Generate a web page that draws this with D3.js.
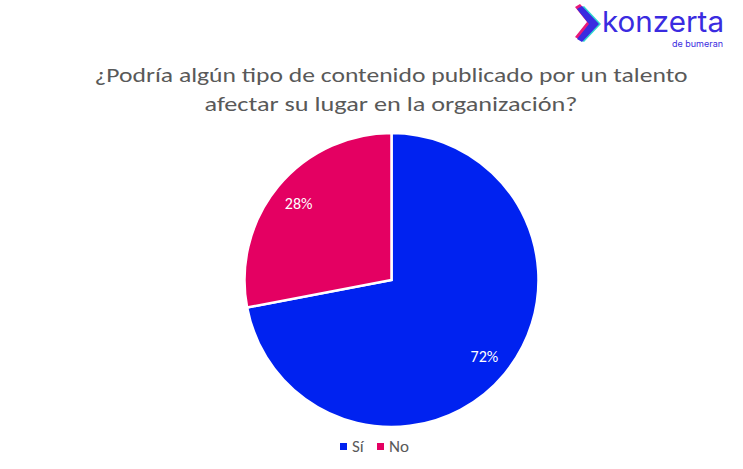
<!DOCTYPE html>
<html>
<head>
<meta charset="utf-8">
<script src="https://cdn.jsdelivr.net/npm/d3@7"></script>
<style>
  body { margin: 0; background: #fff; }
  svg { font-family: Calibri, Carlito, Lato, sans-serif; }
</style>
</head>
<body>
<div id="chart"></div>
<script>
var svgWidth = 743;
var svgHeight = 469;

// Data
var categories = ["Sí", "No"];
var values = [72, 28];
var colors = ["#0022f0", "#e40062"];
var titleLines = [
    "¿Podría algún tipo de contenido publicado por un talento",
    "afectar su lugar en la organización?"
];

var data = categories.map((c, i) => ({ label: c, value: values[i] }));

var svg = d3.select("#chart")
    .append("svg")
    .attr("width", svgWidth)
    .attr("height", svgHeight);

// Title
var titleWidths = [593, 373];
svg.append("g").selectAll("text")
    .data(titleLines)
    .enter()
    .append("text")
    .attr("x", 391)
    .attr("y", (d, i) => 82 + i * 29)
    .attr("text-anchor", "middle")
    .attr("fill", "#595959")
    .style("font-size", "20.5px")
    .style("font-weight", "300")
    .attr("textLength", (d, i) => titleWidths[i])
    .attr("lengthAdjust", "spacingAndGlyphs")
    .text(d => d);

// Pie
var cx = 391.5, cy = 280, radius = 147;
var pieGroup = svg.append("g")
    .attr("transform", `translate(${cx}, ${cy})`);

var pie = d3.pie().sort(null).value(d => d.value);
var arc = d3.arc().innerRadius(0).outerRadius(radius);
var labelArc = d3.arc().innerRadius(radius * 0.82).outerRadius(radius * 0.82);
var color = d3.scaleOrdinal().domain(categories).range(colors);

var arcs = pie(data);

pieGroup.selectAll("path")
    .data(arcs)
    .enter()
    .append("path")
    .attr("d", arc)
    .attr("fill", d => color(d.data.label))
    .attr("stroke", "#fff")
    .attr("stroke-width", 2.5)
    .attr("stroke-linejoin", "miter");

pieGroup.selectAll("text")
    .data(arcs)
    .enter()
    .append("text")
    .attr("transform", d => `translate(${labelArc.centroid(d)})`)
    .attr("dy", "0.35em")
    .attr("text-anchor", "middle")
    .attr("fill", "#fff")
    .style("font-size", "16px")
    .text(d => d.data.value + "%");

// Legend
var legendX = d3.scaleOrdinal().domain(categories).range([340, 377]);
var legend = svg.append("g").selectAll("g")
    .data(categories)
    .enter()
    .append("g")
    .attr("transform", d => `translate(${legendX(d)}, 443)`);

legend.append("rect")
    .attr("width", 7)
    .attr("height", 7)
    .attr("fill", d => color(d));

legend.append("text")
    .attr("x", 12)
    .attr("y", 8.5)
    .attr("fill", "#595959")
    .style("font-size", "17px")
    .text(d => d);

// Logo
var logo = svg.append("g").attr("transform", "translate(576, 5)");
var chevron = "M0,3 L5,0 L22,18 L5,36 L0,33 L12,18 Z";
logo.append("path").attr("d", chevron).attr("fill", "#e8197a").attr("transform", "translate(-1,-1)");
logo.append("path").attr("d", chevron).attr("fill", "#2fd6d0").attr("transform", "translate(3,1)");
logo.append("path").attr("d", chevron).attr("fill", "#3a2be0").attr("transform", "translate(1,1)");

logo.append("text")
    .attr("x", 26)
    .attr("y", 27)
    .attr("fill", "#3a2be0")
    .style("font-family", "Inter, 'Open Sans', sans-serif")
    .style("font-size", "29px")
    .style("font-weight", "400")
    .attr("textLength", 122)
    .attr("lengthAdjust", "spacingAndGlyphs")
    .text("konzerta");

logo.append("text")
    .attr("x", 147)
    .attr("y", 42)
    .attr("text-anchor", "end")
    .attr("fill", "#3a2be0")
    .style("font-family", "Inter, 'Open Sans', sans-serif")
    .style("font-size", "9px")
    .text("de bumeran");
</script>
</body>
</html>
